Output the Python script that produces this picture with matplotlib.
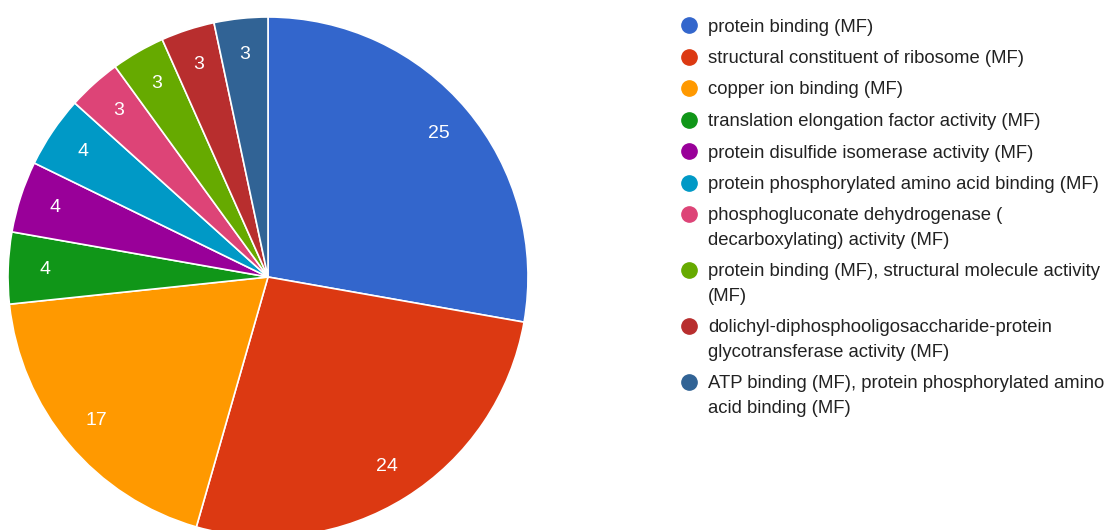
import matplotlib.pyplot as plt
from matplotlib.lines import Line2D

plt.rcParams['font.family'] = ['Liberation Sans', 'DejaVu Sans']

# Datos del gráfico
categorias = [
    "protein binding (MF)",
    "structural constituent of ribosome (MF)",
    "copper ion binding (MF)",
    "translation elongation factor activity (MF)",
    "protein disulfide isomerase activity (MF)",
    "protein phosphorylated amino acid binding (MF)",
    "phosphogluconate dehydrogenase (\ndecarboxylating) activity (MF)",
    "protein binding (MF), structural molecule activity\n(MF)",
    "dolichyl-diphosphooligosaccharide-protein\nglycotransferase activity (MF)",
    "ATP binding (MF), protein phosphorylated amino\nacid binding (MF)",
]
valores = [25, 24, 17, 4, 4, 4, 3, 3, 3, 3]
colores = ["#3366cc", "#dc3912", "#ff9900", "#109618", "#990099",
           "#0099c6", "#dd4477", "#66aa00", "#b82e2e", "#316395"]

W, H = 1109, 530
fig = plt.figure(figsize=(W / 100, H / 100), dpi=100)

# Pastel: centro (268, 277) px, radio 260 px
cx, cy, r = 268, 277, 260
ax = fig.add_axes([(cx - r) / W, (H - cy - r) / H, 2 * r / W, 2 * r / H])
total = sum(valores)
wedges, _, autotexts = ax.pie(
    valores, colors=colores, startangle=90, counterclock=False,
    autopct=lambda p: f"{round(p * total / 100):d}", pctdistance=0.86,
    wedgeprops=dict(edgecolor="white", linewidth=1.2),
    textprops=dict(color="white", fontsize=14),
)
ax.set_xlim(-1, 1)
ax.set_ylim(-1, 1)
ax.set_aspect("equal")

# Leyenda dibujada a mano (marcador alineado con la primera línea)
y = 25
for cat, c in zip(categorias, colores):
    fig.add_artist(Line2D([689 / W], [1 - y / H], marker="o", markersize=11,
                          markerfacecolor=c, markeredgecolor=c,
                          transform=fig.transFigure))
    lineas = cat.split("\n")
    for i, linea in enumerate(lineas):
        fig.text(708 / W, 1 - (y + i * 24.5) / H, linea, fontsize=13.3,
                 color="#222222", va="center_baseline", ha="left")
    y += 31.5 + 24.5 * (len(lineas) - 1)

fig.savefig("out.png", dpi=100)
